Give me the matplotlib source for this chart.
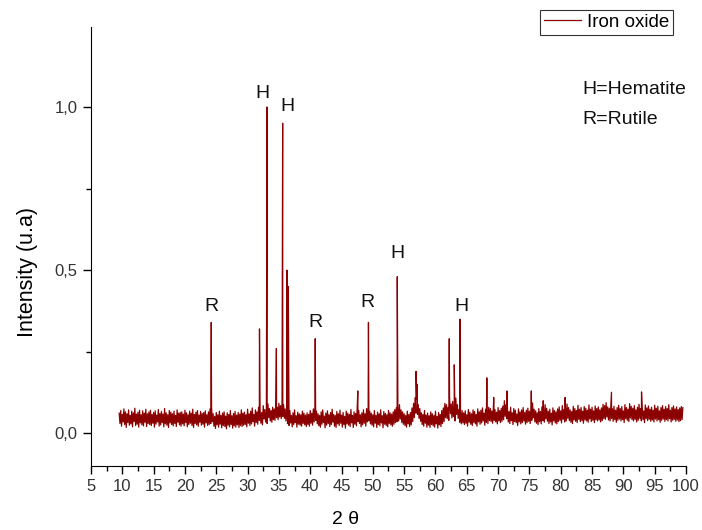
import numpy as np
import matplotlib.pyplot as plt
from matplotlib.ticker import MultipleLocator, FuncFormatter

plt.rcParams['font.family'] = ['Liberation Sans', 'DejaVu Sans']

# background noise (x1000 intensity)
# crests sampled every 0.25 deg from 9.5, troughs in between
crests = [
    62, 70, 58, 75, 66, 60, 72, 55, 68, 63, 77, 59, 65, 71, 57, 69, 62, 74, 60, 66,
    71, 58, 64, 69, 56, 73, 61, 67, 59, 76, 63, 57, 70, 65, 60, 68, 55, 72, 62, 64,
    66, 59, 71, 63, 57, 68, 62, 74, 58, 65, 70, 56, 67, 61, 64, 69, 57, 66, 75, 80,
    60, 52, 64, 57, 68, 55, 62, 66, 53, 63, 58, 70, 54, 61, 67, 56, 64, 59, 72, 62,
    65, 57, 74, 60, 68, 78, 58, 72, 66, 80, 70, 64, 85, 73, 66, 90, 76, 70, 80, 75,
    88, 80, 92, 85, 95, 88, 75, 66, 58, 70, 55, 63, 72, 54, 65, 60, 57, 68, 62, 56,
    63, 58, 70, 62, 75, 82, 68, 60, 55, 66, 72, 53, 62, 69, 57, 64, 74, 58, 55, 67,
    60, 71, 56, 64, 52, 68, 62, 58, 73, 55, 66, 61, 78, 70, 57, 63, 72, 60, 76, 80,
    68, 62, 57, 70, 55, 65, 60, 72, 54, 67, 61, 57, 70, 63, 59, 66, 73, 78, 80, 88,
    72, 66, 60, 55, 68, 58, 64, 78, 92, 110, 104, 88, 76, 63, 58, 70, 56, 62, 54, 66,
    60, 55, 68, 52, 64, 58, 70, 78, 92, 88, 80, 110, 90, 98, 76, 108, 88, 73, 66, 70,
    63, 69, 57, 73, 65, 60, 72, 67, 58, 75, 66, 71, 78, 62, 74, 68, 80, 76, 69, 82,
    73, 65, 79, 70, 77, 84, 100, 88, 74, 67, 80, 63, 76, 71, 59, 75, 66, 72, 79, 64,
    71, 77, 68, 82, 93, 74, 69, 63, 76, 67, 81, 72, 88, 77, 68, 74, 62, 78, 70, 66,
    75, 81, 69, 85, 73, 77, 90, 79, 72, 67, 83, 76, 70, 86, 74, 79, 68, 82, 77, 71,
    87, 74, 80, 69, 84, 76, 81, 72, 78, 89, 85, 94, 81, 77, 90, 75, 83, 71, 79, 86,
    76, 82, 69, 88, 79, 74, 91, 83, 77, 85, 72, 80, 89, 76, 82, 69, 87, 78, 84, 74,
    80, 71, 86, 77, 83, 69, 79, 85, 74, 82, 76, 88, 71, 79, 84, 75, 81, 73, 78, 82,
    79,
]
troughs = [
    30, 22, 35, 27, 18, 33, 25, 29, 20, 36, 24, 28, 19, 32, 26, 23, 34, 21, 30, 27,
    24, 31, 19, 28, 35, 22, 26, 33, 20, 29, 25, 18, 32, 27, 23, 30, 21, 34, 26, 22,
    29, 23, 33, 20, 27, 31, 24, 18, 30, 26, 22, 34, 25, 28, 19, 32, 24, 27, 30, 36,
    22, 15, 26, 19, 28, 17, 24, 21, 14, 25, 20, 27, 16, 23, 19, 26, 18, 24, 21, 25,
    27, 20, 31, 24, 29, 36, 22, 33, 28, 40, 31, 26, 44, 35, 30, 48, 38, 34, 42, 40,
    48, 42, 50, 45, 52, 46, 38, 30, 24, 32, 20, 27, 33, 19, 28, 25, 22, 30, 26, 21,
    27, 22, 31, 25, 35, 40, 29, 23, 19, 28, 33, 17, 25, 30, 21, 27, 34, 22, 18, 29,
    24, 31, 19, 27, 16, 29, 25, 21, 32, 18, 28, 23, 36, 30, 20, 26, 31, 22, 35, 38,
    29, 25, 20, 31, 18, 27, 23, 32, 17, 28, 24, 20, 30, 26, 22, 28, 33, 36, 38, 44,
    33, 28, 24, 19, 29, 21, 26, 36, 48, 62, 58, 46, 37, 27, 22, 31, 19, 25, 18, 27,
    23, 19, 29, 16, 26, 21, 30, 36, 48, 45, 40, 60, 47, 52, 38, 58, 46, 34, 29, 32,
    27, 31, 22, 34, 28, 24, 33, 29, 22, 35, 28, 32, 38, 25, 34, 30, 39, 36, 31, 40,
    35, 29, 38, 33, 37, 42, 52, 45, 35, 30, 39, 27, 36, 33, 24, 35, 29, 33, 38, 28,
    33, 37, 30, 40, 48, 35, 31, 27, 36, 29, 39, 34, 44, 37, 30, 35, 26, 38, 32, 29,
    36, 40, 32, 43, 35, 38, 46, 39, 34, 30, 41, 37, 33, 43, 36, 39, 31, 41, 38, 34,
    44, 36, 40, 33, 42, 38, 41, 35, 39, 45, 43, 50, 41, 38, 46, 37, 42, 34, 40, 44,
    38, 42, 33, 45, 40, 36, 47, 42, 38, 43, 35, 40, 46, 38, 42, 33, 45, 39, 43, 37,
    41, 35, 44, 38, 42, 34, 40, 44, 37, 42, 38, 45, 35, 40, 43, 37, 41, 36, 39, 42,
]
base_start = 9.5
base_step = 0.25

# diffraction peaks: position (2 theta) and apex intensity
peak_pos = [24.2, 31.9, 33.1, 34.6, 35.6, 36.3, 36.5, 40.8, 47.6, 49.3, 53.9,
            56.9, 57.1, 62.2, 63.0, 63.9, 68.2, 69.3, 71.4, 75.3, 77.2, 80.7,
            88.1, 92.9]
peak_int = [0.34, 0.32, 1.00, 0.26, 0.95, 0.50, 0.45, 0.29, 0.13, 0.34, 0.48,
            0.19, 0.15, 0.29, 0.21, 0.35, 0.17, 0.11, 0.13, 0.13, 0.10, 0.11,
            0.126, 0.127]

# phase labels
lab_text = ['H', 'H', 'R', 'R', 'R', 'H', 'H']
lab_x = [32.3, 36.3, 24.3, 40.9, 49.2, 54.0, 64.2]
lab_y = [1.04, 1.00, 0.39, 0.34, 0.40, 0.55, 0.39]

cx = base_start + base_step * np.arange(len(crests))
tx = base_start + base_step / 2 + base_step * np.arange(len(troughs))
x = np.concatenate([cx, tx, peak_pos])
y = np.concatenate([np.array(crests) / 1000.0, np.array(troughs) / 1000.0, peak_int])
order = np.argsort(x, kind='stable')
x, y = x[order], y[order]

fig = plt.figure(figsize=(7.02, 5.30), dpi=100)
ax = fig.add_axes([91/702, 1-466/530, (686-91)/702, (466-27)/530])

line, = ax.plot(x, y, color='#8b0000', lw=0.9, label='Iron oxide')

for t, lx, ly in zip(lab_text, lab_x, lab_y):
    ax.text(lx, ly, t, ha='center', va='center', fontsize=14, color='#111111')

ax.text(83.4, 1.053, 'H=Hematite', ha='left', va='center', fontsize=14, color='#111111')
ax.text(83.4, 0.963, 'R=Rutile', ha='left', va='center', fontsize=14, color='#111111')

ax.set_xlim(5, 100)
ax.set_ylim(-0.1, 1.245)
ax.spines['top'].set_visible(False)
ax.spines['right'].set_visible(False)
ax.xaxis.set_major_locator(MultipleLocator(5))
ax.xaxis.set_minor_locator(MultipleLocator(2.5))
ax.yaxis.set_major_locator(MultipleLocator(0.5))
ax.yaxis.set_minor_locator(MultipleLocator(0.25))
ax.yaxis.set_major_formatter(FuncFormatter(lambda v, p: f'{v:.1f}'.replace('.', ',')))
ax.tick_params(which='major', length=6, width=1, direction='out', labelsize=12,
               labelcolor='#333333')
ax.tick_params(which='minor', length=3.5, width=1, direction='out')

fig.text(345/702, 1-520/530, '2 θ', ha='center', va='center', fontsize=14)
fig.text(27/702, 1-272/530, 'Intensity (u.a)', ha='center', va='center',
         rotation=90, fontsize=15.5)

fig.legend(handles=[line], loc='upper right', bbox_to_anchor=(673/702, 1-10/530),
           fontsize=13.5, frameon=True, fancybox=False, edgecolor='black',
           handlelength=2.0, borderpad=0.2, handletextpad=0.3, borderaxespad=0)
fig.legends[0].get_frame().set_linewidth(0.8)

fig.savefig('out.png', dpi=100)
